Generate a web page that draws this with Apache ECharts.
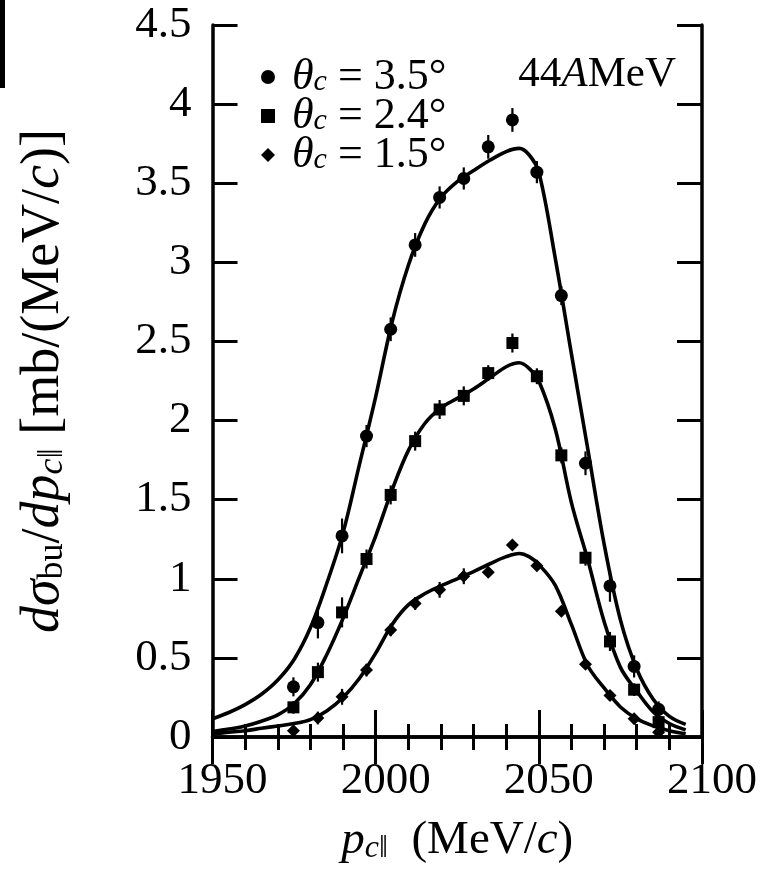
<!DOCTYPE html>
<html>
<head>
<meta charset="utf-8">
<script src="https://cdn.jsdelivr.net/npm/echarts@6/dist/echarts.min.js"></script>
<style>html,body{margin:0;padding:0;background:#fff}#c{width:763px;height:870px}</style>
</head>
<body>
<div id="c"></div>
<script>
// ---- data ----
const xPoints = [1974.8, 1982.3, 1989.7, 1997.2, 2004.6, 2012.1, 2019.6, 2027.0, 2034.5, 2041.9, 2049.4, 2056.9, 2064.3, 2071.8, 2079.2, 2086.7];

const y35 = [0.317, 0.723, 1.271, 1.902, 2.577, 3.11, 3.41, 3.53, 3.73, 3.90, 3.57, 2.79, 1.73, 0.955, 0.446, 0.175];
const e35 = [0.06, 0.10, 0.11, 0.07, 0.075, 0.075, 0.07, 0.07, 0.075, 0.075, 0.07, 0.06, 0.075, 0.10, 0.07, 0.05];

const y24 = [0.1875, 0.41, 0.7875, 1.125, 1.53, 1.87, 2.07, 2.156, 2.30, 2.49, 2.28, 1.78, 1.133, 0.604, 0.299, 0.094];
const e24 = [0.04, 0.06, 0.095, 0.06, 0.06, 0.06, 0.06, 0.06, 0.05, 0.06, 0.05, 0.05, 0.05, 0.06, 0.04, 0.03];

const y15 = [0.04, 0.12, 0.254, 0.423, 0.677, 0.844, 0.93, 1.016, 1.041, 1.213, 1.083, 0.795, 0.46, 0.263, 0.115, 0.03];
const e15 = [0.03, 0.04, 0.05, 0.04, 0.04, 0.04, 0.05, 0.05, 0.03, 0.03, 0.03, 0.03, 0.03, 0.03, 0.03, 0.02];

const curveX = [1950, 1955, 1960, 1965, 1970, 1975, 1980, 1985, 1990, 1995, 2000, 2005, 2010, 2015, 2020, 2025, 2030, 2035, 2040, 2044, 2047, 2050, 2055, 2060, 2065, 2070, 2075, 2080, 2085, 2090, 2095];
const curve35Y = [0.115, 0.155, 0.205, 0.27, 0.36, 0.49, 0.69, 0.97, 1.29, 1.72, 2.15, 2.62, 2.98, 3.24, 3.41, 3.51, 3.58, 3.645, 3.70, 3.72, 3.68, 3.57, 3.03, 2.42, 1.82, 1.22, 0.74, 0.43, 0.24, 0.13, 0.08];
const curve24Y = [0.035, 0.05, 0.07, 0.10, 0.14, 0.21, 0.33, 0.52, 0.75, 1.01, 1.27, 1.56, 1.81, 1.98, 2.08, 2.14, 2.20, 2.27, 2.34, 2.365, 2.33, 2.25, 1.95, 1.48, 1.12, 0.73, 0.44, 0.29, 0.16, 0.085, 0.045];
const curve15Y = [0.02, 0.03, 0.04, 0.055, 0.07, 0.085, 0.11, 0.165, 0.25, 0.37, 0.53, 0.71, 0.835, 0.905, 0.955, 1.00, 1.045, 1.095, 1.14, 1.16, 1.14, 1.09, 0.96, 0.71, 0.45, 0.31, 0.19, 0.115, 0.07, 0.04, 0.02];

const legendNames = ['3.5', '2.4', '1.5'];
const xTicks = [1950, 2000, 2050, 2100];
const yTicks = [0, 0.5, 1, 1.5, 2, 2.5, 3, 3.5, 4, 4.5];

// ---- chart ----
const FONT = 'Liberation Serif';
const FS = 45;
const SFS = 31;
function mkRich(fs, sfs, lh, slh) {
  return {
    r: {fontFamily: FONT, fontSize: fs, fontWeight: 'normal', color: '#000', lineHeight: lh},
    i: {fontFamily: FONT, fontSize: fs, fontWeight: 'normal', fontStyle: 'italic', color: '#000', lineHeight: lh},
    sub: {fontFamily: FONT, fontSize: sfs, fontWeight: 'normal', fontStyle: 'italic', color: '#000', lineHeight: slh, verticalAlign: 'bottom'},
    subr: {fontFamily: FONT, fontSize: sfs, fontWeight: 'normal', color: '#000', lineHeight: slh, verticalAlign: 'bottom'}
  };
}

const pair = (xs, ys) => xs.map((x, i) => [x, ys[i]]);
const errData = (ys, es) => xPoints.map((x, i) => [x, ys[i] - es[i], ys[i] + es[i]]);

function errSeries(ys, es) {
  return {
    type: 'custom', silent: true, z: 3,
    data: errData(ys, es),
    encode: {x: 0, y: [1, 2]},
    renderItem: function (params, api) {
      const p1 = api.coord([api.value(0), api.value(1)]);
      const p2 = api.coord([api.value(0), api.value(2)]);
      return {type: 'line', shape: {x1: p1[0], y1: p1[1], x2: p2[0], y2: p2[1]}, style: {stroke: '#000', lineWidth: 2.2}};
    }
  };
}
function curveSeries(ys) {
  return {type: 'line', data: pair(curveX, ys), smooth: 0.35, showSymbol: false, silent: true, z: 2,
    lineStyle: {color: '#000', width: 3.6}};
}
function ptSeries(name, ys, symbol, size) {
  return {type: 'scatter', name: name, data: pair(xPoints, ys), symbol: symbol, symbolSize: size, z: 4,
    itemStyle: {color: '#000', opacity: 1}};
}

const axisCommonX = {
  type: 'value', min: xTicks[0], max: xTicks[xTicks.length - 1], interval: 50,
  axisLine: {show: true, lineStyle: {color: '#000', width: 3.5}},
  axisTick: {show: true, inside: true, length: 27, lineStyle: {color: '#000', width: 3}},
  minorTick: {show: true, splitNumber: 5, length: 13, lineStyle: {color: '#000', width: 3}},
  splitLine: {show: false}, minorSplitLine: {show: false}
};
const axisCommonY = {
  type: 'value', min: yTicks[0], max: yTicks[yTicks.length - 1], interval: 0.5,
  axisLine: {show: true, lineStyle: {color: '#000', width: 3.5}},
  axisTick: {show: true, inside: true, length: 25, lineStyle: {color: '#000', width: 3}},
  splitLine: {show: false}
};

const chart = echarts.init(document.getElementById('c'), null, {renderer: 'canvas'});
chart.setOption({
  animation: false,
  backgroundColor: '#fff',
  grid: {left: 212.5, right: 61, top: 25, bottom: 125, containLabel: false},
  title: {
    text: '{r|44}{i|A}{r|MeV}', right: 82, top: 46,
    textStyle: {fontWeight: 'normal', rich: mkRich(43, 30, 48, 16)}
  },
  legend: {
    orient: 'vertical', left: 256, top: 50, itemGap: -5, itemWidth: 14, itemHeight: 14,
    data: [
      {name: legendNames[0], icon: 'circle'},
      {name: legendNames[1], icon: 'rect'},
      {name: legendNames[2], icon: 'diamond'}
    ],
    formatter: function (n) { return '{i|θ}{sub|c}{r| = ' + n + '°}'; },
    textStyle: {padding: [0, 0, 0, 12], rich: mkRich(44, 30, 40, 12)}
  },
  xAxis: [
    Object.assign({}, axisCommonX, {
      position: 'bottom',
      axisLabel: {show: true, fontFamily: FONT, fontSize: FS, color: '#000', margin: 22, padding: [0, 0, 0, 20],
        formatter: v => String(v)},
      name: '{i|p}{sub|c‖}{r|  (MeV/}{i|c}{r|)}', nameLocation: 'middle', nameGap: 80,
      nameTextStyle: {rich: mkRich(47, 32, 48, 16)}
    }),
    Object.assign({}, axisCommonX, {position: 'top', axisLabel: {show: false}})
  ],
  yAxis: [
    Object.assign({}, axisCommonY, {
      position: 'left',
      axisLabel: {show: true, fontFamily: FONT, fontSize: FS, color: '#000', margin: 21,
        formatter: v => String(v)},
      name: '{i|dσ}{subr|bu}{r|/}{i|dp}{sub|c‖}{r| [mb/(MeV/}{i|c}{r|)]}', nameLocation: 'middle', nameGap: 142,
      nameRotate: 90,
      nameTextStyle: {rich: mkRich(54, 36, 54, 18)}
    }),
    Object.assign({}, axisCommonY, {position: 'right', axisLabel: {show: false}})
  ],
  graphic: [{type: 'rect', left: 0, top: 0, shape: {width: 5, height: 88}, style: {fill: '#000'}}],
  series: [
    curveSeries(curve35Y),
    curveSeries(curve24Y),
    curveSeries(curve15Y),
    errSeries(y35, e35),
    errSeries(y24, e24),
    errSeries(y15, e15),
    ptSeries(legendNames[0], y35, 'circle', 13),
    ptSeries(legendNames[1], y24, 'rect', 12),
    ptSeries(legendNames[2], y15, 'diamond', 13)
  ]
});
</script>
</body>
</html>
